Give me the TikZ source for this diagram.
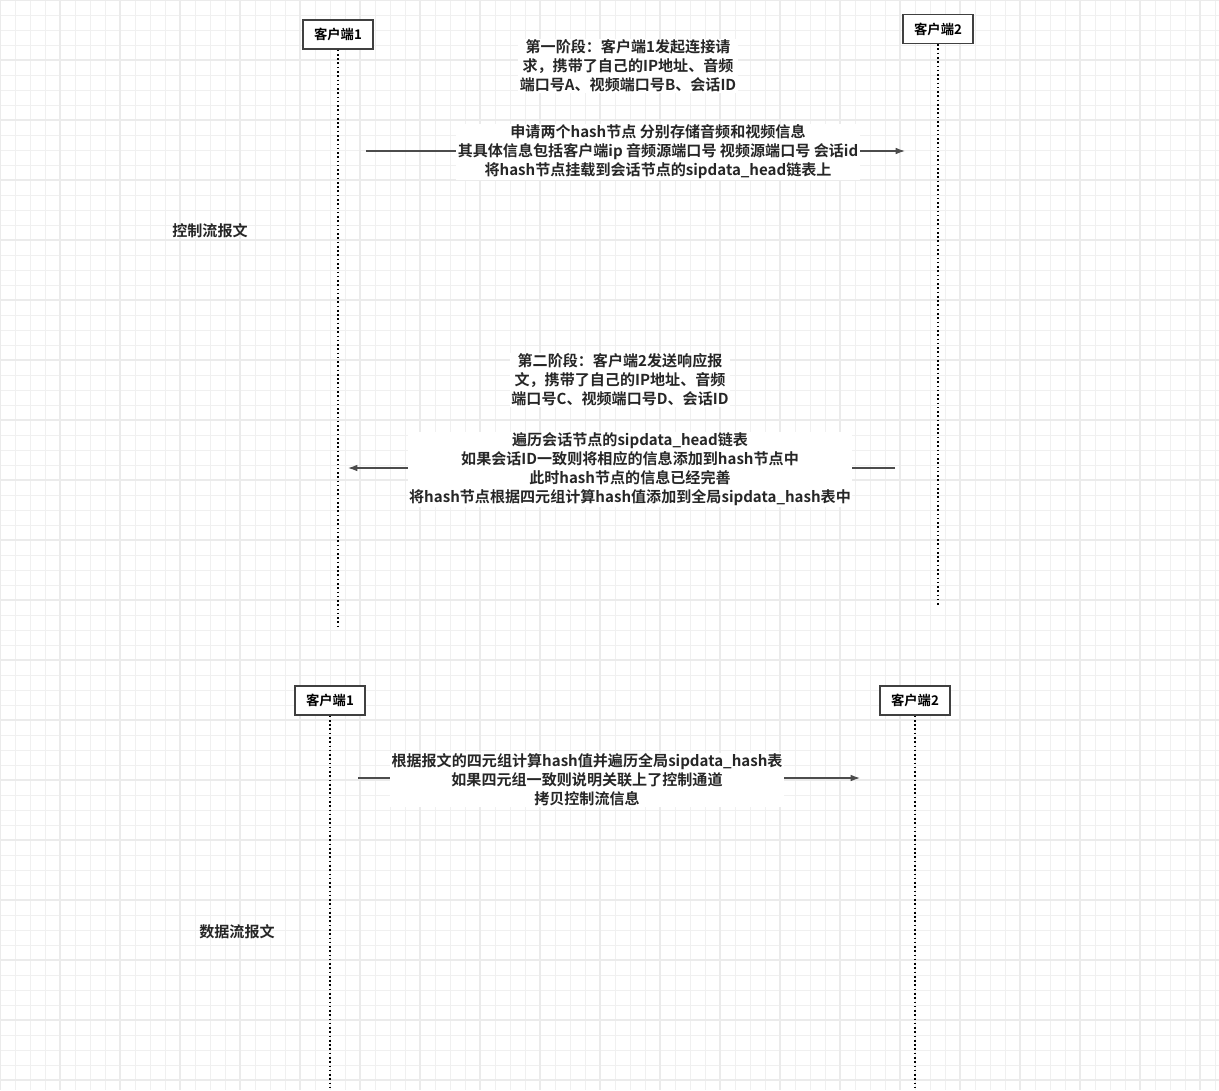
\documentclass[tikz,border=0pt]{standalone}
\usepackage{fontspec}
\usetikzlibrary{arrows.meta}
\newfontfamily\cjk{Noto Sans CJK SC}[BoldFont={Noto Sans CJK SC Bold}]
\begin{document}
\begin{tikzpicture}[x=0.75pt,y=-0.75pt,font=\cjk\bfseries\fontsize{11.3pt}{14.2pt}\selectfont,
  actor/.style={draw=black!75,line width=1pt,fill=white,minimum width=52.5pt,minimum height=21.75pt,inner sep=0pt,font=\cjk\bfseries\fontsize{10pt}{12pt}\selectfont},
  life/.style={dotted,line width=1.2pt},
  msg/.style={draw=black!70,line width=0.9pt,-{Latex[length=7pt,width=5pt]}},
  lbl/.style={fill=white,align=center,inner sep=1pt,text=black!85}]
\useasboundingbox (0,0) rectangle (1219,1090);
\fill[white] (0,0) rectangle (1219,1090);
\foreach \i in {0,15,...,1215} \draw[black!6,line width=0.6pt] (\i,0) -- (\i,1090);
\foreach \i in {0,15,...,1089} \draw[black!6,line width=0.6pt] (0,\i) -- (1219,\i);
\foreach \i in {0,60,...,1215} \draw[black!8,line width=0.8pt] (\i,0) -- (\i,1090);
\foreach \i in {0,60,...,1089} \draw[black!8,line width=0.8pt] (0,\i) -- (1219,\i);
\node[actor] (a1) at (338,34.5) {客户端1};
\node[actor] (a2) at (938,29) {客户端2};
\coordinate (e1) at (338,628);
\coordinate (e2) at (938,605);
\draw[life] (a1) -- (e1);
\draw[life] (a2) -- (e2);
\node[lbl] (p1) at (628,66) {第一阶段：客户端1发起连接请\\求，携带了自己的IP地址、音频\\端口号A、视频端口号B、会话ID};
\coordinate (m1s) at (366,151); \coordinate (m1e) at (905,151);
\draw[msg] (m1s) -- (m1e);
\node[lbl] (l1) at (658,152) {申请两个hash节点 分别存储音频和视频信息\\其具体信息包括客户端ip 音频源端口号 视频源端口号 会话id\\将hash节点挂载到会话节点的sipdata\_head链表上};
\node[lbl,fill=none] (c1) at (210,231) {控制流报文};
\node[lbl] (p2) at (620,380) {第二阶段：客户端2发送响应报\\文，携带了自己的IP地址、音频\\端口号C、视频端口号D、会话ID};
\coordinate (m2s) at (895,468); \coordinate (m2e) at (348,468);
\draw[msg] (m2s) -- (m2e);
\node[lbl] (l2) at (630,469.5) {遍历会话节点的sipdata\_head链表\\如果会话ID一致则将相应的信息添加到hash节点中\\此时hash节点的信息已经完善\\将hash节点根据四元组计算hash值添加到全局sipdata\_hash表中};
\node[actor] (b1) at (330,700.5) {客户端1};
\node[actor] (b2) at (915,700.5) {客户端2};
\coordinate (f1) at (330,1090);
\coordinate (f2) at (915,1090);
\draw[life] (b1) -- (f1);
\draw[life] (b2) -- (f2);
\coordinate (m3s) at (358,778); \coordinate (m3e) at (860,778);
\draw[msg] (m3s) -- (m3e);
\node[lbl] (l3) at (587,780) {根据报文的四元组计算hash值并遍历全局sipdata\_hash表\\如果四元组一致则说明关联上了控制通道\\拷贝控制流信息};
\node[lbl,fill=none] (c2) at (237,932) {数据流报文};
\end{tikzpicture}
\end{document}
